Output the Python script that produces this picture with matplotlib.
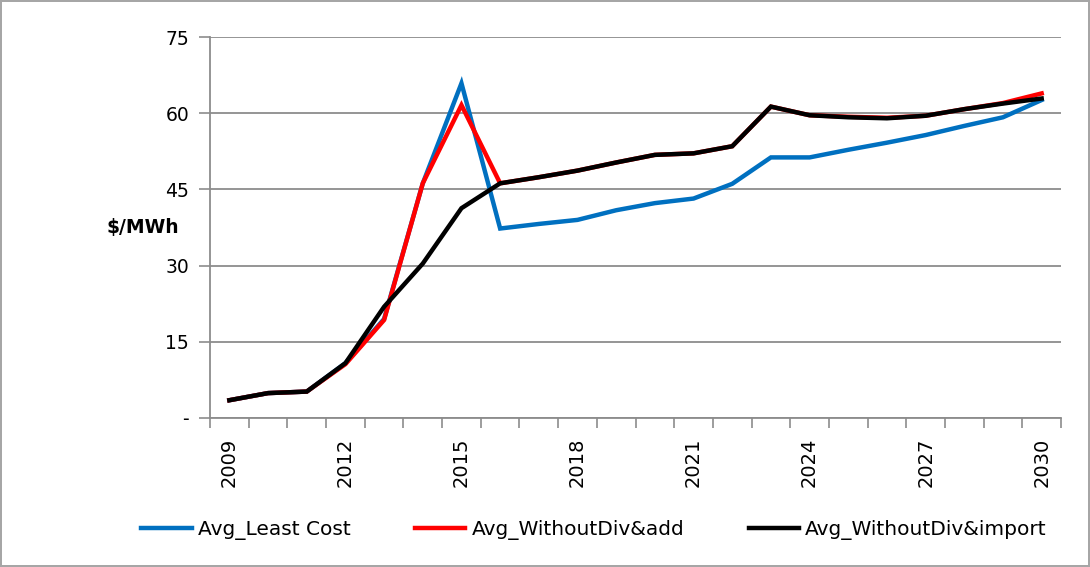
import numpy as np
import matplotlib
matplotlib.use("Agg")
import matplotlib.pyplot as plt

# Average cost per scenario, $/MWh
years = list(range(2009, 2031))
least_cost = [3.5, 4.9, 5.2, 10.8, 19.5, 46.2, 65.9, 37.3, 38.2, 39.0, 40.9,
              42.3, 43.2, 46.1, 51.3, 51.3, 52.8, 54.2, 55.7, 57.5, 59.2, 62.6]
without_div_add = [3.5, 4.9, 5.2, 10.6, 19.3, 46.2, 61.6, 46.2, 47.4, 48.7, 50.3,
                   51.8, 52.1, 53.5, 61.3, 59.6, 59.3, 59.1, 59.5, 60.8, 62.0, 63.9]
without_div_import = [3.5, 4.9, 5.2, 10.8, 21.9, 30.4, 41.3, 46.2, 47.4, 48.7, 50.3,
                      51.8, 52.1, 53.5, 61.3, 59.6, 59.2, 59.0, 59.5, 60.8, 61.9, 62.9]
labels = ["Avg_Least Cost", "Avg_WithoutDiv&add", "Avg_WithoutDiv&import"]
colors = ["#0070C0", "#FF0000", "#000000"]

grey = "#8c8c8c"

fig = plt.figure(figsize=(10.9, 5.67), dpi=100)
fig.patch.set_edgecolor("#a6a6a6")
fig.patch.set_linewidth(1.5)
ax = fig.add_axes([0.1927, 0.2628, 0.7807, 0.6719])

x = np.arange(len(years))
for series, lab, col in zip([least_cost, without_div_add, without_div_import], labels, colors):
    ax.plot(x, series, color=col, lw=3.2, label=lab, solid_joinstyle="miter")

ax.set_xlim(-0.5, len(years) - 0.5)
ax.set_ylim(0, 75)

# category axis: tick marks between categories, labels every 3 years
ax.set_xticks(np.arange(-0.5, len(years), 1.0))
ax.set_xticklabels([])
lab_idx = np.arange(0, len(years), 3)
ax.set_xticks(lab_idx, minor=True)
ax.set_xticklabels([str(years[i]) for i in lab_idx], minor=True, rotation=90, fontsize=14)
ax.tick_params(axis="x", which="major", direction="out", length=7, color=grey, width=1.2)
ax.tick_params(axis="x", which="minor", length=0, pad=14)

yt = [0, 15, 30, 45, 60, 75]
ax.set_yticks(yt)
ax.set_yticklabels(["-"] + [str(v) for v in yt[1:]], fontsize=13.5)
ax.tick_params(axis="y", direction="out", length=8, color=grey, width=1.2, pad=7)

ax.yaxis.grid(True, color=grey, lw=1.3)
ax.set_axisbelow(True)
for s in ["top", "right"]:
    ax.spines[s].set_visible(False)
for s in ["left", "bottom"]:
    ax.spines[s].set_color(grey)
    ax.spines[s].set_linewidth(1.3)

fig.text(0.098, 0.598, "$/MWh", fontsize=13.5, fontweight="bold", va="center", ha="left")

fig.legend(loc="center", bbox_to_anchor=(0.545, 0.065), ncol=3, frameon=False,
           fontsize=14.5, handlelength=2.5, columnspacing=3.2, handletextpad=0.3)

plt.savefig("out.png", dpi=100)
